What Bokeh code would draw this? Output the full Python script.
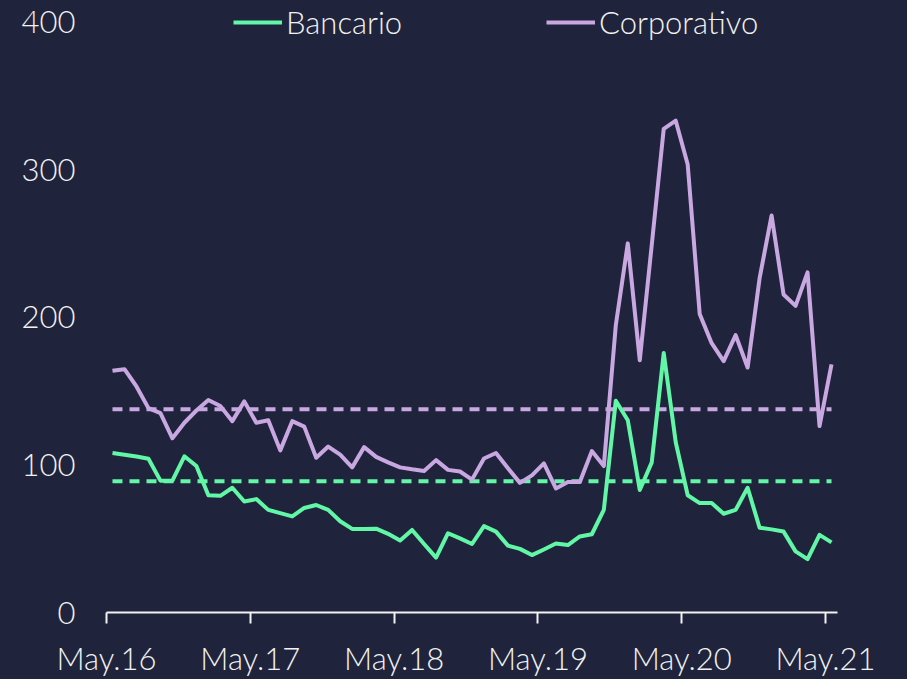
import numpy as np
from bokeh.plotting import figure
from bokeh.models import FixedTicker, Legend, LegendItem, Range1d
from bokeh.embed import file_html
from bokeh.resources import INLINE

# ---- data (monthly, May.16 .. May.21) ----
bancario = [108.0, 106.9, 105.6, 104.1, 89.3, 89.3, 105.8, 99.2, 79.4, 79.0,
            84.5, 75.2, 76.8, 69.5, 67.3, 65.1, 70.8, 72.8, 69.5, 61.8,
            56.6, 56.6, 56.8, 53.3, 48.8, 55.9, 46.4, 37.2, 53.7, 50.2,
            46.4, 58.5, 54.8, 45.3, 43.1, 38.9, 42.7, 46.7, 45.7, 51.5,
            53.0, 69.5, 143.4, 130.2, 83.0, 101.7, 175.8, 115.3, 79.4, 74.1,
            74.1, 66.9, 69.5, 84.5, 57.4, 56.3, 54.8, 41.4, 36.1, 52.6,
            47.5]
corporativo = [163.7, 164.8, 153.1, 138.4, 135.1, 118.0, 128.5, 136.8, 143.9, 139.9,
               129.6, 143.0, 128.5, 130.2, 109.8, 129.6, 125.9, 104.8, 112.4, 106.9,
               98.3, 112.0, 105.4, 101.7, 98.3, 97.0, 95.9, 103.2, 96.6, 95.5,
               90.0, 104.3, 108.0, 97.7, 87.8, 92.9, 101.0, 84.0, 88.4, 88.4,
               109.3, 99.2, 194.5, 250.0, 170.8, 249.0, 327.6, 333.1, 303.4, 202.2,
               182.4, 170.3, 187.9, 165.9, 226.4, 268.9, 215.4, 207.7, 230.4, 126.3,
               168.1]
promedio_bancario = 88.9
promedio_corporativo = 137.7
tick_labels = ["May.16", "May.17", "May.18", "May.19", "May.20", "May.21"]
y_ticks = [0, 100, 200, 300, 400]

BG = "#1f243c"
GREEN = "#62f7a6"
PURPLE = "#c9a8e2"
TXT = "#f2f2f2"
FONT = "Lato Light, Lato"
FS = "31px"
LW = 4

x = np.arange(len(bancario)) + 0.5
tick_pos = [12 * i for i in range(len(tick_labels))]

p = figure(width=907, height=679, output_backend="svg", toolbar_location=None,
           x_range=Range1d(0, 61), y_range=Range1d(0, 414.5),
           background_fill_color=BG, border_fill_color=BG,
           min_border_left=106, min_border_right=70, min_border_top=0,
           min_border_bottom=66)
p.styles = {"background-color": BG}
p.outline_line_color = None
p.xgrid.visible = False
p.ygrid.visible = False

# average (dashed) lines
p.line([x[0], x[-1]], [promedio_bancario] * 2, line_color=GREEN, line_width=LW,
       line_dash="10 7")
p.line([x[0], x[-1]], [promedio_corporativo] * 2, line_color=PURPLE, line_width=LW,
       line_dash="10 7")

r1 = p.line(x, bancario, line_color=GREEN, line_width=LW, line_join="round")
r2 = p.line(x, corporativo, line_color=PURPLE, line_width=LW, line_join="round")

# axes
xa = p.xaxis[0]
xa.ticker = FixedTicker(ticks=tick_pos)
xa.major_label_overrides = {t: l for t, l in zip(tick_pos, tick_labels)}
xa.axis_line_color = TXT
xa.axis_line_width = 2
xa.major_tick_line_color = TXT
xa.major_tick_line_width = 2
xa.major_tick_out = 11
xa.major_tick_in = 0
xa.minor_tick_line_color = None
xa.major_label_text_color = TXT
xa.major_label_text_font = FONT
xa.major_label_text_font_size = FS
xa.major_label_standoff = 15

ya = p.yaxis[0]
ya.ticker = FixedTicker(ticks=y_ticks)
ya.axis_line_color = None
ya.major_tick_line_color = None
ya.minor_tick_line_color = None
ya.major_tick_out = 0
ya.major_tick_in = 0
ya.major_label_text_color = TXT
ya.major_label_text_font = FONT
ya.major_label_text_font_size = FS
ya.major_label_standoff = 31

legend = Legend(items=[LegendItem(label="Bancario", renderers=[r1]),
                       LegendItem(label="Corporativo", renderers=[r2])],
                orientation="horizontal", location=(127, 571),
                glyph_width=49, glyph_height=20, label_standoff=4,
                label_width=260, spacing=0, padding=0, margin=0,
                background_fill_alpha=0, border_line_color=None,
                label_text_color=TXT, label_text_font=FONT,
                label_text_font_size=FS)
p.add_layout(legend)

open("out.html", "w").write(file_html(p, INLINE))
